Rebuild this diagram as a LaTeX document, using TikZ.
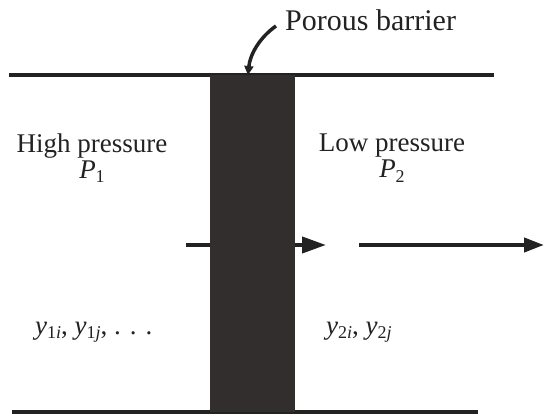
\documentclass[tikz,border=0pt]{standalone}
\usepackage{fontspec}
\setmainfont{Liberation Serif}
\usetikzlibrary{arrows.meta}
\definecolor{barriergray}{HTML}{322E2E}
\definecolor{inkc}{HTML}{222222}
\tikzset{
  wall/.style={line width=3.2pt, draw=inkc},
  flow/.style={line width=4pt, draw=inkc},
  lbl/.style={inner sep=0pt, font=\fontsize{27}{30}\selectfont, text=inkc}
}
\newcommand{\ysub}[2]{{\itshape y}\raisebox{-0.35ex}{\fontsize{18}{20}\selectfont #1{\itshape #2}}}
\begin{document}
\begin{tikzpicture}[x=1pt,y=-1pt]
\useasboundingbox (0,0) rectangle (544,417);
% walls
\coordinate (tl) at (9,75);
\coordinate (tr) at (494,75);
\coordinate (bl) at (12,412);
\coordinate (br) at (478,412);
\draw[wall] (tl) -- (tr);
\draw[wall] (bl) -- (br);
% barrier
\node[fill=barriergray, draw=none, minimum width=85pt, minimum height=337pt, inner sep=0pt, anchor=north west] (barrier) at (210,75) {};
% labels
\node[lbl, anchor=west, font=\fontsize{30}{33}\selectfont] (porous) at (285,20) {Porous barrier};
\node[lbl, align=center] (high) at (92,158) {High pressure\\[-4pt]\textit{P}\raisebox{-0.35ex}{\fontsize{18}{20}\selectfont 1}};
\node[lbl, align=center] (low) at (392,158) {Low pressure\\[-4pt]\textit{P}\raisebox{-0.35ex}{\fontsize{18}{20}\selectfont 2}};
\node[lbl, anchor=west] (y1) at (35,332) {\ysub{1}{i}, \ysub{1}{j}, . . .};
\node[lbl, anchor=west] (y2) at (326,332) {\ysub{2}{i}, \ysub{2}{j}};
% leader
\coordinate (lead) at (276,26);
\draw[line width=3.5pt, draw=inkc, -{Triangle[length=9pt,width=9pt]}] (lead) .. controls (259,38) and (250,55) .. (barrier.north -| 248,0);
% flow arrows
\coordinate (in) at (186,245);
\coordinate (outa) at (326,245);
\coordinate (s2) at (359,245);
\coordinate (e2) at (544,245);
\draw[flow] (in) -- (in -| barrier.west);
\draw[flow, -{Triangle[length=24pt,width=16pt]}] (outa -| barrier.east) -- (outa);
\draw[flow, -{Triangle[length=20pt,width=14pt]}] (s2) -- (e2);
\end{tikzpicture}
\end{document}
